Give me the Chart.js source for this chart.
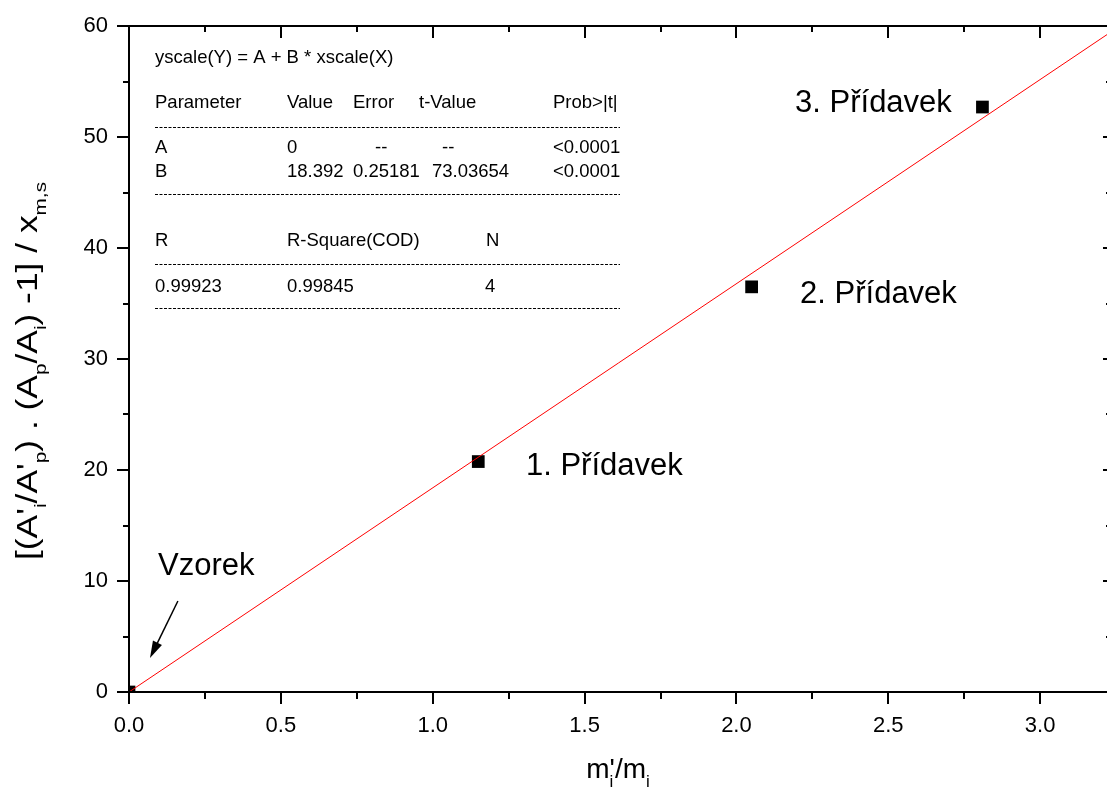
<!DOCTYPE html>
<html>
<head>
<meta charset="utf-8">
<script src="https://cdn.jsdelivr.net/npm/chart.js@4.4.0/dist/chart.umd.min.js"></script>
<style>
  html, body { margin: 0; padding: 0; background: #fff; }
</style>
</head>
<body>
<canvas id="chart" width="1107" height="791"></canvas>
<script>
// measured points (m'/m, response)
const sampleX = [0, 1.15, 2.05, 2.81];
const sampleY = [0, 20.76, 36.5, 52.7];
const sampleNames = ["Vzorek", "1. Přídavek", "2. Přídavek", "3. Přídavek"];
// where the name labels sit, in data units
const labelX = [0.0955, 1.307, 2.2095, 2.193];
const labelY = [11.35, 20.36, 35.86, 53.06];
// linear fit y = A + B*x
const fitA = 0;
const fitB = 18.392;
const fitX = [0, 3.23];
const xTicks = [0, 0.5, 1, 1.5, 2, 2.5, 3];
const yTicks = [0, 10, 20, 30, 40, 50, 60];

const FONT = "'Liberation Sans', Arial, sans-serif";

function drawRich(ctx, segs, x, y, size, subSize, subDrop) {
  let w = 0;
  for (const s of segs) {
    ctx.font = (s.sub ? subSize : size) + "px " + FONT;
    if (!s.hold) w += ctx.measureText(s.t).width;
  }
  let cx = x - w / 2;
  for (const s of segs) {
    ctx.font = (s.sub ? subSize : size) + "px " + FONT;
    ctx.fillText(s.t, cx, s.sub ? y + subDrop : y);
    if (!s.hold) cx += ctx.measureText(s.t).width;
  }
}

const decorPlugin = {
  id: "decor",
  // pin the plot frame where the original has it (right edge runs off the page)
  afterLayout(chart) {
    const a = chart.chartArea;
    a.left = 129; a.top = 26; a.right = 1110; a.bottom = 692;
    a.width = a.right - a.left; a.height = a.bottom - a.top;
    const xs = chart.scales.x, ys = chart.scales.y;
    xs.left = a.left; xs.right = a.right; xs.width = a.width;
    xs.top = a.bottom; xs.bottom = 791; xs.height = 791 - a.bottom;
    ys.left = 0; ys.right = a.left; ys.width = a.left;
    ys.top = a.top; ys.bottom = a.bottom; ys.height = a.height;
    xs.configure(); ys.configure();
  },
  afterDraw(chart) {
    const ctx = chart.ctx;
    const a = chart.chartArea;
    const xs = chart.scales.x, ys = chart.scales.y;
    ctx.save();
    ctx.strokeStyle = "#000";
    ctx.fillStyle = "#000";

    // frame
    ctx.lineWidth = 2;
    ctx.beginPath();
    ctx.moveTo(a.left, a.top); ctx.lineTo(a.left, a.bottom);
    ctx.moveTo(a.left - 1, a.bottom); ctx.lineTo(a.right, a.bottom);
    ctx.moveTo(a.left - 1, a.top); ctx.lineTo(a.right, a.top);
    ctx.moveTo(a.right, a.top); ctx.lineTo(a.right, a.bottom);
    ctx.stroke();

    // x ticks, bottom out / top in
    for (let v = 0; v <= xs.max + 1e-9; v += 0.25) {
      const px = Math.round(xs.getPixelForValue(v));
      const major = Math.abs(v * 2 - Math.round(v * 2)) < 1e-6;
      ctx.beginPath();
      ctx.moveTo(px, a.bottom); ctx.lineTo(px, a.bottom + (major ? 12 : 7));
      ctx.moveTo(px, a.top); ctx.lineTo(px, a.top + (major ? 12 : 6));
      ctx.stroke();
    }
    // y ticks, left out / right in
    for (let v = 0; v <= 60; v += 5) {
      const py = Math.round(ys.getPixelForValue(v));
      const major = v % 10 === 0;
      ctx.beginPath();
      ctx.moveTo(a.left, py); ctx.lineTo(a.left - (major ? 12 : 6), py);
      ctx.moveTo(a.right, py); ctx.lineTo(a.right - (major ? 7 : 4), py);
      ctx.stroke();
    }

    // point names
    ctx.font = "31px " + FONT;
    ctx.textBaseline = "middle";
    ctx.textAlign = "left";
    sampleNames.forEach((n, i) => {
      ctx.fillText(n, xs.getPixelForValue(labelX[i]), ys.getPixelForValue(labelY[i]));
    });

    // arrow to the sample point
    const x0 = xs.getPixelForValue(0.161), y0 = ys.getPixelForValue(8.2);
    const x1 = xs.getPixelForValue(0.0691), y1 = ys.getPixelForValue(3.06);
    const ang = Math.atan2(y1 - y0, x1 - x0);
    ctx.lineWidth = 1.5;
    ctx.beginPath();
    ctx.moveTo(x0, y0);
    ctx.lineTo(x1 - 10 * Math.cos(ang), y1 - 10 * Math.sin(ang));
    ctx.stroke();
    ctx.beginPath();
    ctx.moveTo(x1, y1);
    ctx.lineTo(x1 - 17 * Math.cos(ang) + 5 * Math.sin(ang), y1 - 17 * Math.sin(ang) - 5 * Math.cos(ang));
    ctx.lineTo(x1 - 17 * Math.cos(ang) - 5 * Math.sin(ang), y1 - 17 * Math.sin(ang) + 5 * Math.cos(ang));
    ctx.closePath();
    ctx.fill();

    // fit report
    const L = a.left;
    ctx.font = "18.5px " + FONT;
    const cells = [
      [58, [[26, "yscale(Y) = A + B * xscale(X)"]]],
      [103, [[26, "Parameter"], [158, "Value"], [224, "Error"], [290, "t-Value"], [424, "Prob>|t|"]]],
      [148, [[26, "A"], [158, "0"], [246, "--"], [313, "--"], [424, "<0.0001"]]],
      [172, [[26, "B"], [158, "18.392"], [224, "0.25181"], [303, "73.03654"], [424, "<0.0001"]]],
      [241, [[26, "R"], [158, "R-Square(COD)"], [357, "N"]]],
      [287, [[26, "0.99923"], [158, "0.99845"], [356, "4"]]]
    ];
    for (const [ry, row] of cells) {
      for (const [cx, t] of row) ctx.fillText(t, L + cx, ry);
    }
    ctx.lineWidth = 1;
    ctx.setLineDash([3, 1.5]);
    for (const ly of [127.5, 194.5, 264.5, 308.5]) {
      ctx.beginPath();
      ctx.moveTo(L + 26, ly); ctx.lineTo(L + 491, ly);
      ctx.stroke();
    }
    ctx.setLineDash([]);

    // axis titles with subscripts
    ctx.textBaseline = "alphabetic";
    drawRich(ctx, [
      { t: "m" }, { t: "i", sub: true, hold: true }, { t: "'/m" }, { t: "i", sub: true }
    ], 618, 778, 28, 17, 9);

    ctx.translate(37, 371);
    ctx.rotate(-Math.PI / 2);
    ctx.scale(1.22, 1);
    drawRich(ctx, [
      { t: "[(A'" }, { t: "i", sub: true }, { t: "/A'" }, { t: "p", sub: true },
      { t: ") . (A" }, { t: "p", sub: true }, { t: "/A" }, { t: "i", sub: true },
      { t: ") -1] / x" }, { t: "m,s", sub: true }
    ], 0, 0, 29, 17, 9);
    ctx.restore();
  }
};

new Chart(document.getElementById("chart"), {
  type: "scatter",
  data: {
    datasets: [
      {
        type: "line",
        data: fitX.map((x) => ({ x: x, y: fitA + fitB * x })),
        borderColor: "#ff0000",
        borderWidth: 1,
        pointRadius: 0,
        fill: false,
        clip: 0
      },
      {
        data: sampleX.map((x, i) => ({ x: x, y: sampleY[i] })),
        pointStyle: "rect",
        pointRadius: 9,
        backgroundColor: "#000",
        borderWidth: 0,
        clip: 0
      }
    ]
  },
  options: {
    responsive: false,
    animation: false,
    devicePixelRatio: 1,
    layout: { padding: { top: 26, right: 0, left: 0, bottom: 0 } },
    plugins: { legend: { display: false }, tooltip: { enabled: false } },
    scales: {
      x: {
        type: "linear",
        min: 0,
        max: 3.23,
        grid: { display: false, drawTicks: false },
        border: { display: false },
        afterBuildTicks: (s) => { s.ticks = xTicks.map((v) => ({ value: v })); },
        afterFit: (s) => { s.height = 99; },
        ticks: {
          color: "#000",
          padding: 21,
          maxRotation: 0,
          font: { family: FONT, size: 22 },
          callback: (v) => v.toFixed(1)
        }
      },
      y: {
        min: 0,
        max: 60,
        grid: { display: false, drawTicks: false },
        border: { display: false },
        afterBuildTicks: (s) => { s.ticks = yTicks.map((v) => ({ value: v })); },
        afterFit: (s) => { s.width = 129; },
        ticks: {
          color: "#000",
          padding: 21,
          font: { family: FONT, size: 22 }
        }
      }
    }
  },
  plugins: [decorPlugin]
});
</script>
</body>
</html>
